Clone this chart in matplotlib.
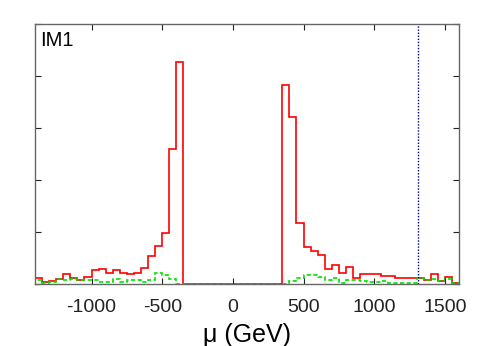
#!/usr/bin/env python3
"""Step histograms of mu for IM1 with a reference line."""

from __future__ import annotations

import matplotlib

matplotlib.use("Agg")
import matplotlib.pyplot as plt
import numpy as np


BIN_LOW = -1400
BIN_HIGH = 1600
BIN_WIDTH = 50

# red solid histogram, one value per 50 GeV bin from -1400 to 1600
RED_COUNTS = [
    0.12, 0.03, 0.06, 0.10, 0.19, 0.12, 0.08, 0.14, 0.26, 0.28,
    0.22, 0.27, 0.22, 0.19, 0.22, 0.30, 0.54, 0.74, 0.99, 2.60,
    4.26, 0.0, 0.0, 0.0, 0.0, 0.0, 0.0, 0.0, 0.0, 0.0,
    0.0, 0.0, 0.0, 0.0, 0.0, 3.82, 3.21, 1.18, 0.72, 0.63,
    0.55, 0.29, 0.37, 0.21, 0.33, 0.12, 0.19, 0.19, 0.19, 0.15,
    0.16, 0.12, 0.12, 0.12, 0.12, 0.08, 0.19, 0.06, 0.14, 0.02,
]

# green dashed histogram, same bins
GREEN_COUNTS = [
    0.08, 0.01, 0.04, 0.10, 0.08, 0.09, 0.08, 0.08, 0.08, 0.04,
    0.04, 0.10, 0.04, 0.08, 0.08, 0.04, 0.08, 0.22, 0.17, 0.10,
    0.0, 0.0, 0.0, 0.0, 0.0, 0.0, 0.0, 0.0, 0.0, 0.0,
    0.0, 0.0, 0.0, 0.0, 0.0, 0.0, 0.06, 0.12, 0.17, 0.18,
    0.14, 0.07, 0.12, 0.02, 0.08, 0.07, 0.05, 0.04, 0.03, 0.05,
    0.02, 0.02, 0.02, 0.02, 0.12, 0.08, 0.10, 0.05, 0.10, 0.02,
]

CUT_VALUE = 1312
X_TICKS = [-1000, -500, 0, 500, 1000, 1500]
Y_TICKS = [0, 1, 2, 3, 4, 5]
PANEL_LABEL = "IM1"
X_LABEL = "\u03bc (GeV)"


def plot(output_path: str) -> None:
    plt.rcParams["font.family"] = ["Liberation Sans", "DejaVu Sans"]
    fig = plt.figure(figsize=(4.94, 3.46), dpi=100)
    ax = fig.add_axes([35 / 494, 62 / 346, 424 / 494, 260 / 346])

    edges = np.arange(BIN_LOW, BIN_HIGH + BIN_WIDTH, BIN_WIDTH)
    ax.stairs(RED_COUNTS, edges, color="#ff0000", linewidth=1.2, baseline=0)
    ax.stairs(GREEN_COUNTS, edges, color="#00e000", linewidth=1.2,
              linestyle=(0, (2.5, 1.5)), baseline=0)
    ax.axvline(CUT_VALUE, color="#00008b", linestyle=(0, (1, 1.2)), linewidth=1.0)

    ax.set_xlim(BIN_LOW, BIN_HIGH)
    ax.set_ylim(Y_TICKS[0], Y_TICKS[-1])
    ax.set_xticks(X_TICKS)
    ax.set_xticklabels([str(t) for t in X_TICKS], fontsize=14)
    ax.set_yticks(Y_TICKS)
    ax.set_yticklabels([])
    ax.tick_params(direction="in", length=4, width=0.8, top=True, right=True,
                   pad=11, colors="#222222")
    ax.set_xlabel(X_LABEL, fontsize=18, labelpad=5)
    for spine in ax.spines.values():
        spine.set_color("#666666")
        spine.set_linewidth(1.0)

    ax.text(0.012, 0.975, PANEL_LABEL, transform=ax.transAxes,
            fontsize=14.5, ha="left", va="top")

    fig.savefig(output_path, dpi=100)
    plt.close(fig)


def main() -> int:
    plot("out.png")
    return 0


if __name__ == "__main__":
    raise SystemExit(main())
